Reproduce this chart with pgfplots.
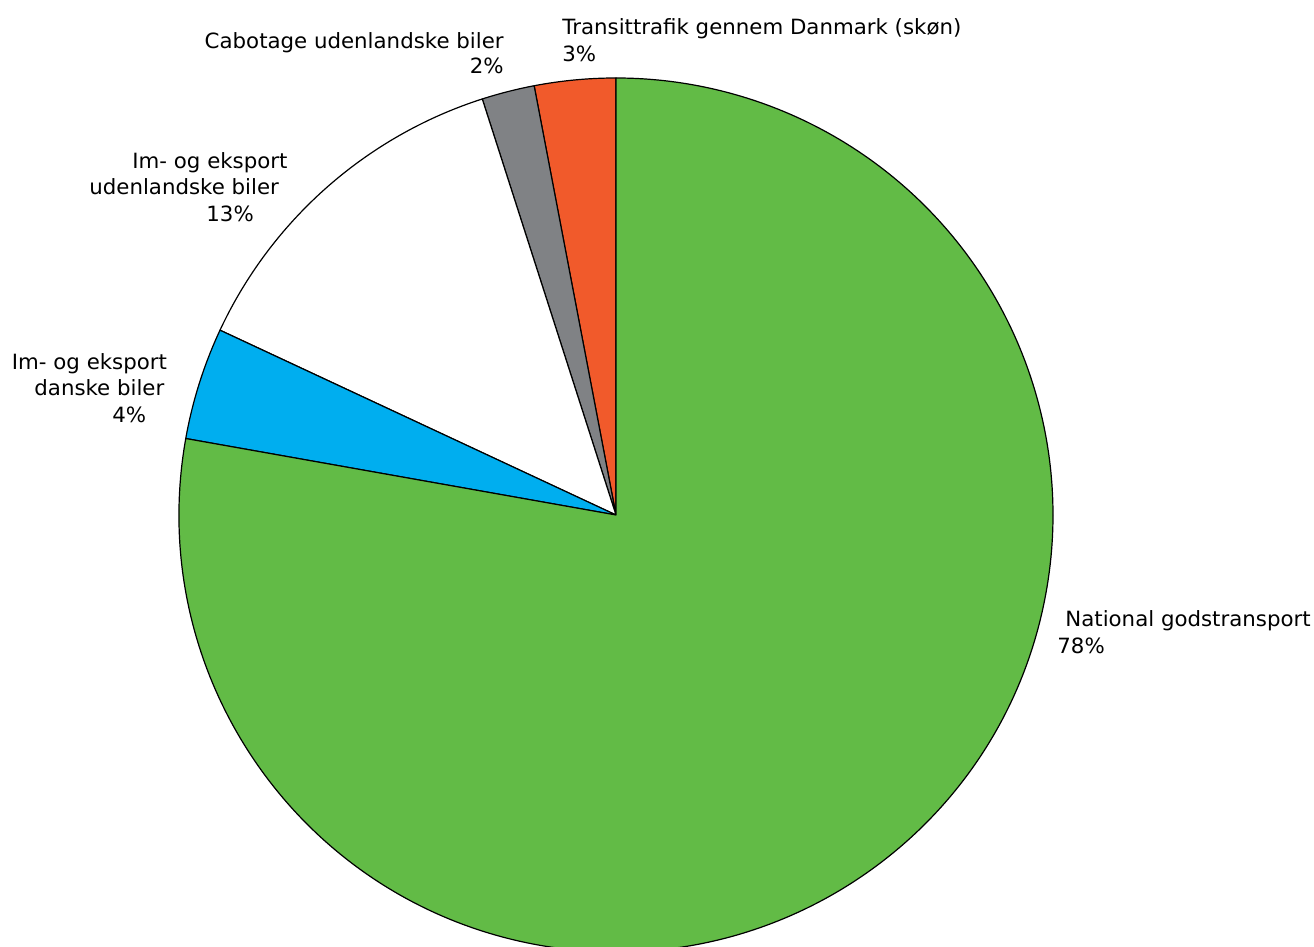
\documentclass[border=0pt]{standalone}
\usepackage{pgfplots}
\pgfplotsset{compat=1.18}
\usepackage{fontspec}
\setmainfont{DejaVu Sans}[FakeStretch=1.015]

\definecolor{natgreen}{HTML}{62BB46}
\definecolor{transorange}{HTML}{F15A2B}
\definecolor{cabgrey}{HTML}{808285}
\definecolor{dkblue}{HTML}{00AEEF}

\newcommand\lbl{\fontsize{10.5}{12.6}\selectfont}

% Shares of road freight (percent), counterclockwise from 12 o'clock
\def\shareTransit{3.0}
\def\shareCabotage{1.95}
\def\shareImExUdl{13.1}
\def\shareImExDk{4.15}
\def\shareNational{77.8}

\begin{document}
\begin{tikzpicture}
\pgfmathsetmacro\aA{90}
\pgfmathsetmacro\aB{\aA+3.6*\shareTransit}
\pgfmathsetmacro\aC{\aB+3.6*\shareCabotage}
\pgfmathsetmacro\aD{\aC+3.6*\shareImExUdl}
\pgfmathsetmacro\aE{\aD+3.6*\shareImExDk}
\pgfmathsetmacro\aF{\aE+3.6*\shareNational}
\begin{axis}[
  x=0.5pt, y=0.5pt,
  xmin=0, xmax=1314, ymin=0, ymax=947,
  hide axis, clip=true,
]
  \path (axis cs:0,0) rectangle (axis cs:1314,947);
  \def\R{218.5pt}
  \filldraw[fill=transorange, draw=black, line width=0.6pt, line join=round]
    (axis cs:616,432) -- ++(\aA:\R) arc[start angle=\aA, end angle=\aB, radius=\R] -- cycle;
  \filldraw[fill=cabgrey, draw=black, line width=0.6pt, line join=round]
    (axis cs:616,432) -- ++(\aB:\R) arc[start angle=\aB, end angle=\aC, radius=\R] -- cycle;
  \filldraw[fill=white, draw=black, line width=0.6pt, line join=round]
    (axis cs:616,432) -- ++(\aC:\R) arc[start angle=\aC, end angle=\aD, radius=\R] -- cycle;
  \filldraw[fill=dkblue, draw=black, line width=0.6pt, line join=round]
    (axis cs:616,432) -- ++(\aD:\R) arc[start angle=\aD, end angle=\aE, radius=\R] -- cycle;
  \filldraw[fill=natgreen, draw=black, line width=0.6pt, line join=round]
    (axis cs:616,432) -- ++(\aE:\R) arc[start angle=\aE, end angle=\aF, radius=\R] -- cycle;

  \begin{scope}[every node/.style={inner sep=0pt, font=\lbl}]
  \node[anchor=base west] at (axis cs:562,912) {Transittrafik gennem Danmark (skøn)};
  \node[anchor=base west] at (axis cs:562,885.3) {3\%};
  \node[anchor=base east] at (axis cs:504,898.7) {Cabotage udenlandske biler};
  \node[anchor=base east] at (axis cs:504,873) {2\%};
  \node[anchor=base west] at (axis cs:132,778.7) {Im- og eksport};
  \node[anchor=base west] at (axis cs:89,752) {udenlandske biler};
  \node[anchor=base west] at (axis cs:206,725.3) {13\%};
  \node[anchor=base west] at (axis cs:11.5,577.7) {Im- og eksport};
  \node[anchor=base west] at (axis cs:34,551) {danske biler};
  \node[anchor=base west] at (axis cs:112,524.3) {4\%};
  \node[anchor=base west] at (axis cs:1065,320.3) {National godstransport};
  \node[anchor=base west] at (axis cs:1057,293.7) {78\%};
  \end{scope}
\end{axis}
\end{tikzpicture}
\end{document}
